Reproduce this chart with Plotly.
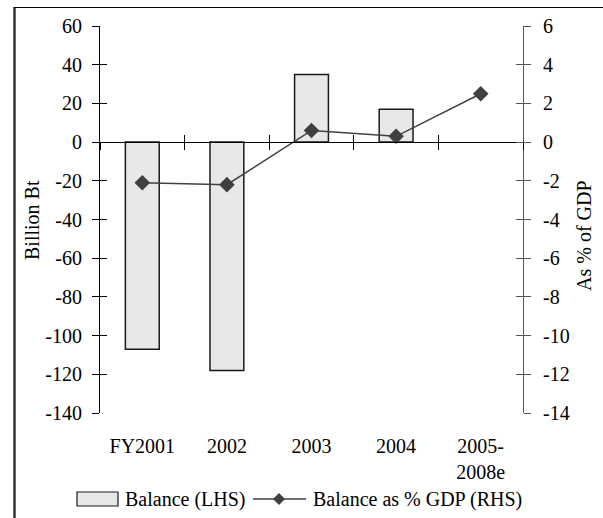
import plotly.graph_objects as go

# Fiscal balance data
categories = ["FY2001", "2002", "2003", "2004", "2005-<br>2008e"]
balance_bn = [-107, -118, 35, 17, None]          # Billion Bt (LHS)
balance_pct_gdp = [-2.1, -2.2, 0.6, 0.3, 2.5]   # % of GDP (RHS)

# axis ticks (labels use a plain hyphen for negatives)
left_ticks = [60, 40, 20, 0, -20, -40, -60, -80, -100, -120, -140]
right_ticks = [6, 4, 2, 0, -2, -4, -6, -8, -10, -12, -14]

W, H = 603, 518
PL, PR, PT, PB = 100, 523, 26, 413  # plot area in pixels

def px(x):
    return (x - PL) / (PR - PL)

def py(y):
    return (PB - y) / (PB - PT)

FONT = dict(family="Liberation Serif, Times New Roman, serif", size=20, color="#000000")
BAR_FILL = "#e8e8e8"
LINE_COL = "#404040"

fig = go.Figure()

fig.add_trace(go.Bar(
    x=categories, y=balance_bn, name="Balance (LHS)",
    width=0.4, marker=dict(color=BAR_FILL, line=dict(color="#1a1a1a", width=1.5)),
    xaxis="x", yaxis="y", showlegend=False,
))
fig.add_trace(go.Scatter(
    x=categories, y=balance_pct_gdp, name="Balance as % GDP (RHS)",
    mode="lines+markers", line=dict(color=LINE_COL, width=1.5),
    marker=dict(symbol="diamond", size=12, color=LINE_COL),
    xaxis="x", yaxis="y2", showlegend=False,
))
# transparent copies bound to the tick-only overlay axes so they get drawn
for xa, ya, vals in [("x2", "y", balance_bn), ("x3", "y", balance_bn),
                     ("x", "y3", balance_bn), ("x", "y4", balance_pct_gdp)]:
    fig.add_trace(go.Scatter(x=categories, y=vals, xaxis=xa, yaxis=ya, mode="markers",
                             marker=dict(opacity=0, size=1), showlegend=False, hoverinfo="skip"))

common_y = dict(range=[-140, 60], tickmode="array", tickvals=left_ticks,
                showgrid=False, zeroline=False, fixedrange=True)
common_y2 = dict(range=[-14, 6], tickmode="array", tickvals=right_ticks,
                 showgrid=False, zeroline=False, fixedrange=True)
common_x = dict(type="category", categoryarray=categories, range=[-0.5, 4.5],
                showgrid=False, zeroline=False, fixedrange=True)

fig.update_layout(
    width=W, height=H,
    margin=dict(l=PL, r=W - PR, t=PT, b=H - PB, pad=0),
    paper_bgcolor="white", plot_bgcolor="white",
    font=FONT, showlegend=False, bargap=0.6,
    xaxis=dict(
        **common_x, domain=[0, 1], showline=False, ticks="",
        tickfont=FONT, ticklabelstandoff=19,
    ),
    xaxis2=dict(
        **common_x, overlaying="x", anchor="free", position=0.7,
        showline=True, linecolor="#000000", linewidth=1,
        ticks="outside", ticklen=7, tickcolor="#000000", tickson="boundaries",
        showticklabels=False,
    ),
    xaxis3=dict(
        **common_x, overlaying="x", anchor="free", position=0.7,
        showline=False, ticks="inside", ticklen=7, tickcolor="#000000",
        tickson="boundaries", showticklabels=False,
    ),
    yaxis=dict(
        **common_y, ticktext=[f"{v:d}".replace("\u2212", "-") for v in left_ticks],
        side="left", showline=True, linecolor="#000000", linewidth=1,
        ticks="outside", ticklen=7, tickcolor="#000000", tickfont=FONT,
        ticklabelstandoff=6,
    ),
    yaxis3=dict(
        **common_y, overlaying="y", side="left", showline=False,
        ticks="inside", ticklen=7, tickcolor="#000000", showticklabels=False,
    ),
    yaxis2=dict(
        **common_y2, ticktext=[f"{v:d}" for v in right_ticks],
        overlaying="y", side="right", anchor="x",
        showline=True, linecolor="#555555", linewidth=1,
        ticks="outside", ticklen=7, tickcolor="#555555", tickfont=FONT,
        ticklabelstandoff=8,
    ),
    yaxis4=dict(
        **common_y2, overlaying="y", side="right", anchor="x", showline=False,
        ticks="inside", ticklen=7, tickcolor="#555555", showticklabels=False,
    ),
)

# axis titles
fig.add_annotation(text="Billion Bt", xref="paper", yref="paper", x=px(32), y=py(220),
                   textangle=-90, showarrow=False, font=FONT, xanchor="center", yanchor="middle")
fig.add_annotation(text="As % of GDP", xref="paper", yref="paper", x=px(584), y=py(236),
                   textangle=-90, showarrow=False, font=FONT, xanchor="center", yanchor="middle")

# outer frame (left and top edges)
fig.add_shape(type="line", xref="paper", yref="paper", x0=px(14.5), x1=px(14.5),
              y0=py(7), y1=py(518), line=dict(color="#333333", width=2.5))
fig.add_shape(type="line", xref="paper", yref="paper", x0=px(14), x1=px(603),
              y0=py(7.5), y1=py(7.5), line=dict(color="#000000", width=1))

# legend
LEG_Y = 499
fig.add_shape(type="rect", xref="paper", yref="paper", x0=px(77), x1=px(118),
              y0=py(LEG_Y + 7), y1=py(LEG_Y - 7),
              fillcolor=BAR_FILL, line=dict(color="#1a1a1a", width=1.2))
fig.add_annotation(text="Balance (LHS)", xref="paper", yref="paper", x=px(123), y=py(LEG_Y),
                   showarrow=False, font=FONT, xanchor="left", yanchor="middle")
fig.add_shape(type="line", xref="paper", yref="paper", x0=px(253), x1=px(306),
              y0=py(LEG_Y), y1=py(LEG_Y), line=dict(color=LINE_COL, width=1.5))
cx, cy, d = 279, LEG_Y, 6
fig.add_shape(type="path", xref="paper", yref="paper",
              path=f"M {px(cx - d)},{py(cy)} L {px(cx)},{py(cy - d)} L {px(cx + d)},{py(cy)} L {px(cx)},{py(cy + d)} Z",
              fillcolor=LINE_COL, line=dict(color=LINE_COL, width=0))
fig.add_annotation(text="Balance as % GDP (RHS)", xref="paper", yref="paper", x=px(311), y=py(LEG_Y),
                   showarrow=False, font=FONT, xanchor="left", yanchor="middle")

fig.write_html("out.html", config={"displayModeBar": False})
